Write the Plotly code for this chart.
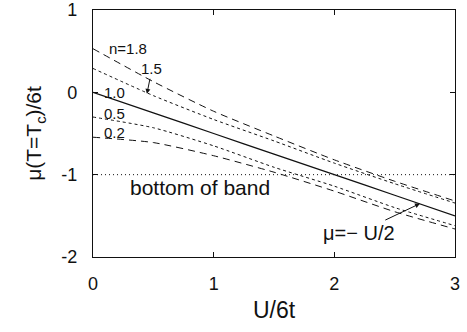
import plotly.graph_objects as go

u_vals = [0, 0.5, 1, 1.5, 2, 2.5, 3]
mu_n18 = [0.53, 0.13, -0.23, -0.53, -0.82, -1.08, -1.32]
mu_n15 = [0.29, -0.04, -0.33, -0.59, -0.86, -1.11, -1.345]
mu_n10 = [0.0, -0.25, -0.5, -0.75, -1.0, -1.25, -1.5]
mu_n05 = [-0.30, -0.43, -0.65, -0.91, -1.14, -1.40, -1.62]
mu_n02 = [-0.545, -0.61, -0.77, -0.97, -1.20, -1.45, -1.66]
band_x = [0, 3]
band_y = [-1, -1]

x_ticks = [0, 1, 2, 3]
x_ticklabels = ["0", "1", "2", "3"]
y_ticks = [1, 0, -1, -2]
y_ticklabels = ["1", "0", "-1", "-2"]

FONT = "Liberation Sans, Arial, sans-serif"

fig = go.Figure()
series = [
    (mu_n18, "7px,5px", 1.0),
    (mu_n15, "3px,3px", 1.0),
    (mu_n10, "solid", 1.3),
    (mu_n05, "3px,3px", 1.0),
    (mu_n02, "7px,5px", 1.0),
]
for ys, dash, w in series:
    fig.add_trace(go.Scatter(x=u_vals, y=ys, mode="lines",
                             line=dict(color="#111", width=w, dash=dash, shape="spline", smoothing=0.6),
                             showlegend=False, hoverinfo="skip"))
fig.add_trace(go.Scatter(x=band_x, y=band_y, mode="lines",
                         line=dict(color="#111", width=1, dash="1px,3px"),
                         showlegend=False, hoverinfo="skip"))

ann_font = dict(family=FONT, size=15, color="#111")
annotations = [
    dict(x=0.29, y=0.53, text="n=1.8", showarrow=False, font=ann_font),
    dict(x=0.447, y=-0.018, text="1.5", showarrow=True, ax=5, ay=-25,
         arrowhead=2, arrowsize=1, arrowwidth=1, arrowcolor="#111", font=ann_font),
    dict(x=0.177, y=0.0, text="1.0", showarrow=False, font=ann_font),
    dict(x=0.177, y=-0.26, text="0.5", showarrow=False, font=ann_font),
    dict(x=0.177, y=-0.485, text="0.2", showarrow=False, font=ann_font),
    dict(x=0.885, y=-1.153, text="bottom of band", showarrow=False,
         font=dict(family=FONT, size=21, color="#111")),
    dict(x=2.71, y=-1.351, text="μ=− U/2", showarrow=True, ax=-61, ay=29,
         arrowhead=2, arrowsize=1, arrowwidth=1, arrowcolor="#111",
         font=dict(family=FONT, size=20, color="#111")),
]
for a in annotations:
    a.setdefault("xref", "x")
    a.setdefault("yref", "y")
    fig.add_annotation(**a)

axis_common = dict(showline=True, linecolor="#111", linewidth=1.2, mirror="ticks",
                   ticks="inside", ticklen=5, tickcolor="#111", showgrid=False,
                   zeroline=False, automargin=False,
                   tickfont=dict(family=FONT, size=18, color="#111"))
fig.update_xaxes(range=[0, 3], tickvals=x_ticks, ticktext=x_ticklabels, ticklabelstandoff=10,
                 title=dict(text="U/6t", font=dict(family=FONT, size=23, color="#111"), standoff=9),
                 **axis_common)
fig.update_yaxes(range=[-2, 1], tickvals=y_ticks, ticktext=y_ticklabels, ticklabelstandoff=11,
                 title=dict(text="μ(T=T<sub>c</sub>)/6t", font=dict(family=FONT, size=21, color="#111"), standoff=13),
                 **axis_common)
fig.update_layout(width=467, height=332, paper_bgcolor="white", plot_bgcolor="white",
                  margin=dict(l=93, r=12, t=10, b=75), font=dict(family=FONT))
fig.write_html("out.html", config={"displayModeBar": False},
               post_script="document.body.style.margin='0';document.body.style.overflow='hidden';")
